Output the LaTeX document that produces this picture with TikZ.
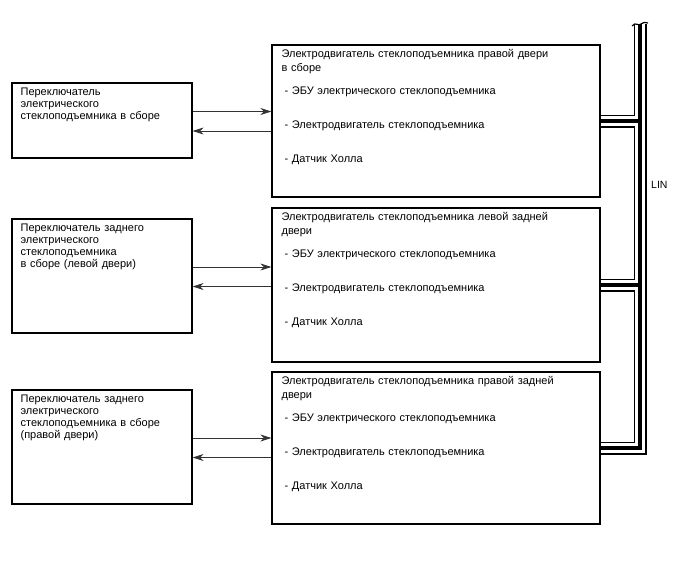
\documentclass[tikz,border=0pt]{standalone}
\usepackage{fontspec}
\setmainfont{Liberation Sans}
\usetikzlibrary{arrows.meta, positioning}

\begin{document}
\begin{tikzpicture}[x=1pt, y=-1pt,
    switchbox/.style={draw, line width=1.2pt, minimum width=180pt, inner sep=0pt},
    motorbox/.style={draw, line width=1.2pt, minimum width=328pt, inner sep=0pt},
    boxtext/.style={anchor=base west, inner sep=0pt, text width=200pt, align=left, font=\fontsize{11}{12}\selectfont},
    titletext/.style={anchor=base west, inner sep=0pt, text width=310pt, align=left, font=\fontsize{11}{14}\selectfont},
    itemtext/.style={anchor=base west, inner sep=0pt, text width=300pt, align=left, font=\fontsize{11}{34}\selectfont},
    signal/.style={draw=black!80, line width=0.8pt, -{Stealth[length=11pt, width=7pt]}}
]
    \useasboundingbox (0,0) rectangle (688,560);

    % Front right door
    \node[switchbox, minimum height=75pt] (sw1) at (102,120.5) {};
    \node[boxtext] at ([shift={(9,13)}]sw1.north west) {Переключатель\\электрического\\стеклоподъемника в сборе};
    \node[motorbox, minimum height=152pt] (mot1) at (436,121) {};
    \node[titletext] at ([shift={(10,13)}]mot1.north west) {Электродвигатель стеклоподъемника правой двери\\в сборе};
    \node[itemtext] at ([shift={(13,50)}]mot1.north west) {- ЭБУ электрического стеклоподъемника\\- Электродвигатель стеклоподъемника\\- Датчик Холла};
    \draw[signal] ([yshift=9pt]sw1.east) -- ([yshift=9pt]sw1.east -| mot1.west);
    \draw[signal] ([yshift=-10.5pt]sw1.east -| mot1.west) -- ([yshift=-10.5pt]sw1.east);

    % Rear left door
    \node[switchbox, minimum height=114pt] (sw2) at (102,276) {};
    \node[boxtext] at ([shift={(9,13.5)}]sw2.north west) {Переключатель заднего\\электрического\\стеклоподъемника\\в сборе (левой двери)};
    \node[motorbox, minimum height=154pt] (mot2) at (436,285) {};
    \node[titletext] at ([shift={(10,13)}]mot2.north west) {Электродвигатель стеклоподъемника левой задней\\двери};
    \node[itemtext] at ([shift={(13,50)}]mot2.north west) {- ЭБУ электрического стеклоподъемника\\- Электродвигатель стеклоподъемника\\- Датчик Холла};
    \draw[signal] ([yshift=9pt]sw2.east) -- ([yshift=9pt]sw2.east -| mot2.west);
    \draw[signal] ([yshift=-10.5pt]sw2.east -| mot2.west) -- ([yshift=-10.5pt]sw2.east);

    % Rear right door
    \node[switchbox, minimum height=114pt] (sw3) at (102,447) {};
    \node[boxtext] at ([shift={(9,13.5)}]sw3.north west) {Переключатель заднего\\электрического\\стеклоподъемника в сборе\\(правой двери)};
    \node[motorbox, minimum height=152pt] (mot3) at (436,448) {};
    \node[titletext] at ([shift={(10,13)}]mot3.north west) {Электродвигатель стеклоподъемника правой задней\\двери};
    \node[itemtext] at ([shift={(13,50)}]mot3.north west) {- ЭБУ электрического стеклоподъемника\\- Электродвигатель стеклоподъемника\\- Датчик Холла};
    \draw[signal] ([yshift=9pt]sw3.east) -- ([yshift=9pt]sw3.east -| mot3.west);
    \draw[signal] ([yshift=-10.5pt]sw3.east -| mot3.west) -- ([yshift=-10.5pt]sw3.east);

    % LIN bus (outline, gap, core)
    \coordinate (bustop) at (640,24);
    \foreach \lw/\lc in {13/black, 9.5/white, 4/black} {
        \draw[line width=\lw pt, draw=\lc, line join=miter] (bustop) -- (bustop |- mot3.east) -- (mot3.east);
        \draw[line width=\lw pt, draw=\lc] (mot1.east) -- (mot1.east -| bustop);
        \draw[line width=\lw pt, draw=\lc] (mot2.east) -- (mot2.east -| bustop);
    }
    \draw[line width=1.2pt] (632,26) .. controls (636,21) and (638,27) .. (641,24) .. controls (643,22) and (645,22) .. (648,23);
    \node[anchor=west, inner sep=0pt, font=\fontsize{10.5}{12}\selectfont] (lin) at (651,185) {LIN};

\end{tikzpicture}
\end{document}
